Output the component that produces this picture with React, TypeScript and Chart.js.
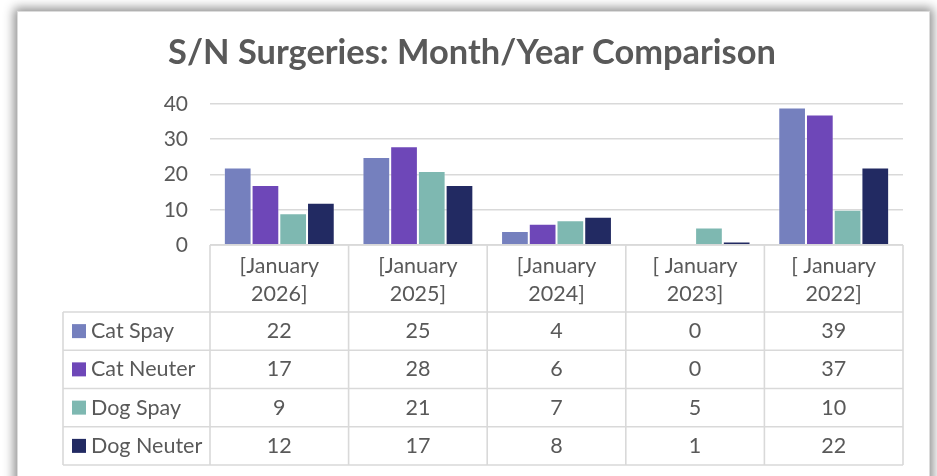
import React, { useEffect, useRef } from "react";
import { Chart, registerables } from "chart.js";

Chart.register(...registerables);

const chartTitle = "S/N Surgeries: Month/Year Comparison";
const categories: string[][] = [
  ["[January", "2026]"],
  ["[January", "2025]"],
  ["[January", "2024]"],
  ["[ January", "2023]"],
  ["[ January", "2022]"],
];
const seriesNames = ["Cat Spay", "Cat Neuter", "Dog Spay", "Dog Neuter"];
const catSpay = [22, 25, 4, 0, 39];
const catNeuter = [17, 28, 6, 0, 37];
const dogSpay = [9, 21, 7, 5, 10];
const dogNeuter = [12, 17, 8, 1, 22];
const yMin = 0;
const yMax = 40;
const yStep = 10;
const seriesColors = ["#7580BE", "#6E47B8", "#7EB8B1", "#222A62"];

const TEXT = "#595959";
const GRID = "#D9D9D9";
const FONT = "Lato, 'Open Sans', sans-serif";

const titlePlugin = {
  id: "customTitle",
  afterDraw(chart: any) {
    const { ctx } = chart;
    ctx.save();
    let size = 32;
    ctx.font = `bold ${size}px ${FONT}`;
    const w = ctx.measureText(chartTitle).width;
    size = (size * 608) / w;
    ctx.font = `bold ${size}px ${FONT}`;
    ctx.fillStyle = TEXT;
    ctx.textAlign = "center";
    ctx.textBaseline = "middle";
    ctx.fillText(chartTitle, 472, 53);
    ctx.restore();
  },
};

const tablePlugin = {
  id: "dataTable",
  afterDraw(chart: any) {
    const { ctx, chartArea } = chart;
    const x = chart.scales.x;
    const labels = chart.data.labels as string[][];
    const datasets = chart.data.datasets;
    const n = labels.length;
    const step = x.getPixelForValue(1) - x.getPixelForValue(0);
    const colEdge = (i: number) => x.getPixelForValue(i) - step / 2;
    const top = chartArea.bottom;
    const headerBottom = top + 67;
    const rowH = 38.25;
    const bottom = headerBottom + datasets.length * rowH;
    const tableLeft = 63;

    ctx.save();
    ctx.strokeStyle = GRID;
    ctx.lineWidth = 1.6;
    ctx.beginPath();
    ctx.moveTo(colEdge(0), top);
    ctx.lineTo(colEdge(n), top);
    for (let r = 0; r <= datasets.length; r++) {
      const y = headerBottom + r * rowH;
      ctx.moveTo(tableLeft, y);
      ctx.lineTo(colEdge(n), y);
    }
    for (let i = 0; i <= n; i++) {
      ctx.moveTo(colEdge(i), top);
      ctx.lineTo(colEdge(i), bottom);
    }
    ctx.moveTo(tableLeft, headerBottom);
    ctx.lineTo(tableLeft, bottom);
    ctx.stroke();

    ctx.fillStyle = TEXT;
    ctx.font = `21.5px ${FONT}`;
    ctx.textAlign = "center";
    ctx.textBaseline = "middle";
    for (let i = 0; i < n; i++) {
      const cx = x.getPixelForValue(i);
      labels[i].forEach((line, k) => {
        ctx.fillText(line, cx, top + 21 + k * 28);
      });
    }
    datasets.forEach((ds: any, r: number) => {
      const cy = headerBottom + r * rowH + rowH / 2;
      ctx.textAlign = "center";
      ctx.fillStyle = TEXT;
      ds.data.forEach((v: number, i: number) => {
        ctx.fillText(String(v), x.getPixelForValue(i), cy);
      });
      ctx.fillStyle = ds.backgroundColor;
      ctx.fillRect(72, cy - 7, 14, 14);
      ctx.fillStyle = TEXT;
      ctx.textAlign = "left";
      ctx.fillText(ds.label, 91, cy);
    });
    ctx.restore();
  },
};

export default function App() {
  const ref = useRef<HTMLCanvasElement | null>(null);

  useEffect(() => {
    if (!ref.current) return;
    const series = [catSpay, catNeuter, dogSpay, dogNeuter];
    const chart = new Chart(ref.current, {
      type: "bar",
      data: {
        labels: categories,
        datasets: series.map((d, i) => ({
          label: seriesNames[i],
          data: d,
          backgroundColor: seriesColors[i],
          borderColor: "rgba(255,255,255,0.3)",
          borderWidth: 1,
          categoryPercentage: 0.8,
          barPercentage: 1.0,
        })),
      },
      options: {
        responsive: false,
        animation: false,
        layout: { padding: { left: 18, right: 34, top: 104, bottom: 0 } },
        plugins: {
          legend: { display: false },
          title: { display: false },
          tooltip: { enabled: false },
        },
        scales: {
          x: {
            ticks: { display: false },
            grid: { display: false },
            border: { display: false },
            afterFit(scale: any) {
              scale.height = 231;
            },
          },
          y: {
            min: yMin,
            max: yMax,
            ticks: {
              stepSize: yStep,
              color: TEXT,
              padding: 22,
              font: { family: FONT, size: 21 },
            },
            grid: { color: GRID, lineWidth: 1.6, drawTicks: false },
            border: { display: false },
            afterFit(scale: any) {
              scale.width = 192;
            },
          },
        },
      },
      plugins: [titlePlugin, tablePlugin],
    });
    return () => chart.destroy();
  }, []);

  return (
    <div
      style={{
        position: "fixed",
        left: 0,
        top: 0,
        width: 937,
        height: 476,
        background: "#ffffff",
        overflow: "hidden",
      }}
    >
      <div
        style={{
          position: "absolute",
          left: 17,
          top: 11,
          width: 913,
          height: 560,
          background: "#ffffff",
          border: "1px solid #dcdcdc",
          boxSizing: "border-box",
          boxShadow: "0 0 10px 3px rgba(0,0,0,0.45)",
        }}
      />
      <canvas
        ref={ref}
        width={937}
        height={476}
        style={{ position: "absolute", left: 0, top: 0, width: 937, height: 476 }}
      />
    </div>
  );
}
